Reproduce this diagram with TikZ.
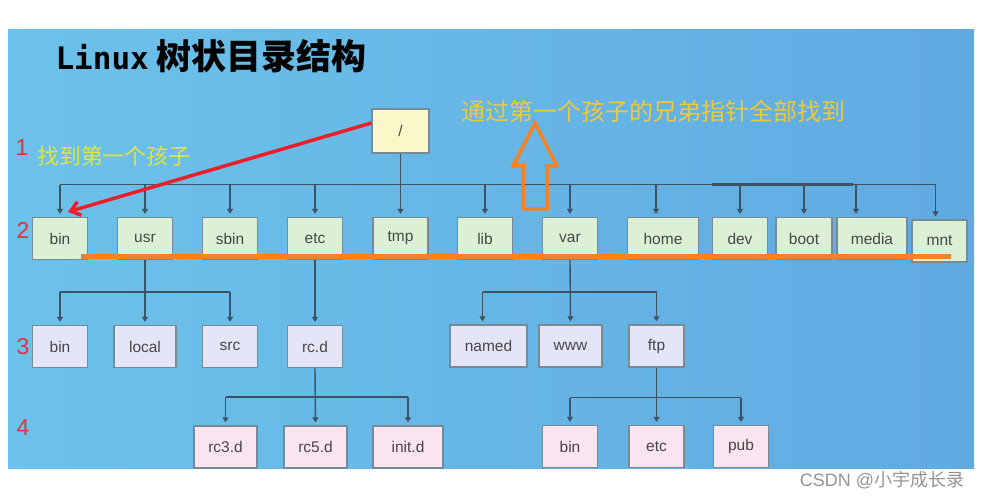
\documentclass[tikz,border=0pt]{standalone}
\usepackage{fontspec}
\usepackage{tikz}
\usepackage{xcolor}
\setmainfont{Liberation Sans}
\newfontfamily\cjk{Noto Sans CJK SC}
\newfontfamily\monof{DejaVu Sans Mono}
\usetikzlibrary{arrows.meta}

\definecolor{panelleft}{RGB}{108,194,234}
\definecolor{panelmid}{RGB}{128,192,233}
\definecolor{panelright}{RGB}{96,170,225}
\definecolor{greenbox}{RGB}{220,240,214}
\definecolor{bluebox}{RGB}{228,230,248}
\definecolor{pinkbox}{RGB}{250,228,240}
\definecolor{rootbox}{RGB}{250,248,200}
\definecolor{boxline}{RGB}{118,138,152}
\definecolor{boxtext}{RGB}{70,70,70}
\definecolor{linkcol}{RGB}{62,82,102}
\definecolor{numred}{RGB}{225,50,60}
\definecolor{hintyellow}{RGB}{228,228,60}
\definecolor{hintgold}{RGB}{236,202,62}
\definecolor{markorange}{RGB}{246,130,36}
\definecolor{pointred}{RGB}{236,30,40}

\begin{document}
\begin{tikzpicture}[x=1pt,y=-1pt,
    dirbox/.style={draw=boxline, line width=1.3pt, minimum width=55pt,
      minimum height=42pt, inner sep=0pt, text=boxtext,
      font=\fontsize{15.5}{15.5}\selectfont},
    lvltwo/.style={dirbox, fill=greenbox},
    lvlthree/.style={dirbox, fill=bluebox},
    lvlfour/.style={dirbox, fill=pinkbox},
    link/.style={draw=linkcol, line width=1.4pt},
    tip/.style={link, shorten >=3pt, -{Triangle[length=5pt,width=6pt]}},
    levelnum/.style={text=numred, font=\fontsize{23}{23}\selectfont},
    markline/.style={draw=markorange, line width=5pt},
  ]
  \useasboundingbox (0,0) rectangle (983,497);
  \shade[left color=panelleft, middle color=panelmid, right color=panelright]
    (8,30) rectangle (974,468);

  \node[anchor=base west] (title) at (52,70)
    {\fontsize{31}{31}\monof\bfseries Linux\hspace{8pt}\fontsize{35}{35}\cjk\bfseries 树状目录结构};

  \node[dirbox, fill=rootbox, minimum width=57pt, minimum height=44pt] (root) at (400.5,131) {/};

  \node[lvltwo] (bintwo) at (60,238.5) {bin};
  \node[lvltwo] (usr) at (145,238.5) {usr};
  \node[lvltwo] (sbin) at (230,238.5) {sbin};
  \node[lvltwo] (etctwo) at (315,238.5) {etc};
  \node[lvltwo] (tmp) at (400.5,238.5) {tmp};
  \node[lvltwo] (lib) at (485,238.5) {lib};
  \node[lvltwo] (var) at (570,238.5) {var};
  \node[lvltwo, minimum width=71pt] (home) at (663,238.5) {home};
  \node[lvltwo] (dev) at (740,238.5) {dev};
  \node[lvltwo, minimum width=56pt] (boot) at (804,238.5) {boot};
  \node[lvltwo, minimum width=70pt] (media) at (872,238.5) {media};
  \node[lvltwo] (mnt) at (939.5,241) {mnt};

  \node[lvlthree] (binthree) at (60,346.5) {bin};
  \node[lvlthree, minimum width=62pt] (local) at (145,346.5) {local};
  \node[lvlthree] (src) at (230,346.5) {src};
  \node[lvlthree] (rcd) at (315,346.5) {rc.d};
  \node[lvlthree, minimum width=77pt] (named) at (488.5,346) {named};
  \node[lvlthree, minimum width=63pt] (www) at (570.5,346) {www};
  \node[lvlthree] (ftp) at (656.5,346) {ftp};

  \node[lvlfour, minimum width=63pt] (rcthree) at (225.5,447) {rc3.d};
  \node[lvlfour, minimum width=63pt] (rcfive) at (315.5,447) {rc5.d};
  \node[lvlfour, minimum width=70pt] (initd) at (408,447) {init.d};
  \node[lvlfour] (binfour) at (570,446.5) {bin};
  \node[lvlfour] (etcfour) at (656.5,446.5) {etc};
  \node[lvlfour] (pub) at (741,446.5) {pub};

  \draw[link] (root.south) -- ++(0,31) coordinate (rootbar);
  \draw[link] (rootbar -| bintwo.north) -- ([xshift=-4pt]rootbar -| mnt.north);
  \draw[link, line width=2.4pt] (rootbar -| dev.west) -- ([xshift=-19pt]rootbar -| media.north);
  \foreach \c in {bintwo,usr,sbin,etctwo,tmp,lib,var,dev,boot}
    \draw[tip] (rootbar -| \c.north) -- (\c.north);
  \draw[tip] ([xshift=-7pt]rootbar -| home.north) -- ([xshift=-7pt]home.north);
  \draw[tip] ([xshift=-16pt]rootbar -| media.north) -- ([xshift=-16pt]media.north);
  \draw[tip] ([xshift=-4pt]rootbar -| mnt.north) -- ([xshift=-4pt]mnt.north);

  \path (usr.south) ++(0,32) coordinate (usrbar);
  \draw[link] (usrbar -| binthree.north) -- (usrbar -| src.north);
  \draw[tip] (usr.south) -- (local.north);
  \draw[tip] (usrbar -| binthree.north) -- (binthree.north);
  \draw[tip] (usrbar -| src.north) -- (src.north);

  \draw[tip] (etctwo.south) -- (rcd.north);

  \path (var.south) ++(0,32) coordinate (varbar);
  \draw[link] ([xshift=-6pt]varbar -| named.north) -- (varbar -| ftp.north);
  \draw[tip] (var.south) -- (www.north);
  \draw[tip] ([xshift=-6pt]varbar -| named.north) -- ([xshift=-6pt]named.north);
  \draw[tip] (varbar -| ftp.north) -- (ftp.north);

  \path (rcd.south) ++(0,29) coordinate (rcdbar);
  \draw[link] (rcdbar -| rcthree.north) -- (rcdbar -| initd.north);
  \draw[tip] (rcd.south) -- (rcfive.north);
  \draw[tip] (rcdbar -| rcthree.north) -- (rcthree.north);
  \draw[tip] (rcdbar -| initd.north) -- (initd.north);

  \path (ftp.south) ++(0,30) coordinate (ftpbar);
  \draw[link] (ftpbar -| binfour.north) -- (ftpbar -| pub.north);
  \draw[tip] (ftp.south) -- (etcfour.north);
  \draw[tip] (ftpbar -| binfour.north) -- (binfour.north);
  \draw[tip] (ftpbar -| pub.north) -- (pub.north);

  \node[levelnum] (numone) at (22,148) {1};
  \node[levelnum] (numtwo) at (23,230) {2};
  \node[levelnum] (numthree) at (23,347) {3};
  \node[levelnum] (numfour) at (23,428) {4};

  \node[text=hintyellow, font=\fontsize{22}{22}\cjk] (firstchild) at (114,156) {找到第一个孩子};
  \node[text=hintgold, font=\fontsize{24}{24}\cjk] (siblings) at (653,111) {通过第一个孩子的兄弟指针全部找到};

  \draw[pointred, line width=3.5pt, -{Straight Barb[length=9pt,width=14pt]}]
    ([yshift=8pt]root.west) -- ([xshift=8pt,yshift=5pt]bintwo.north);

  \draw[markorange, line width=3.5pt, line join=miter]
    (523,209) -- (523,166) -- (513,166) -- (535,123) -- (557,166) -- (547,166) -- (547,209) -- cycle;

  \draw[markline] (81,257) -- (951,257);

  \node[text=black!42, font=\fontsize{18}{18}\selectfont] (mark) at (882,480) {CSDN @\cjk 小宇成长录};
\end{tikzpicture}
\end{document}
